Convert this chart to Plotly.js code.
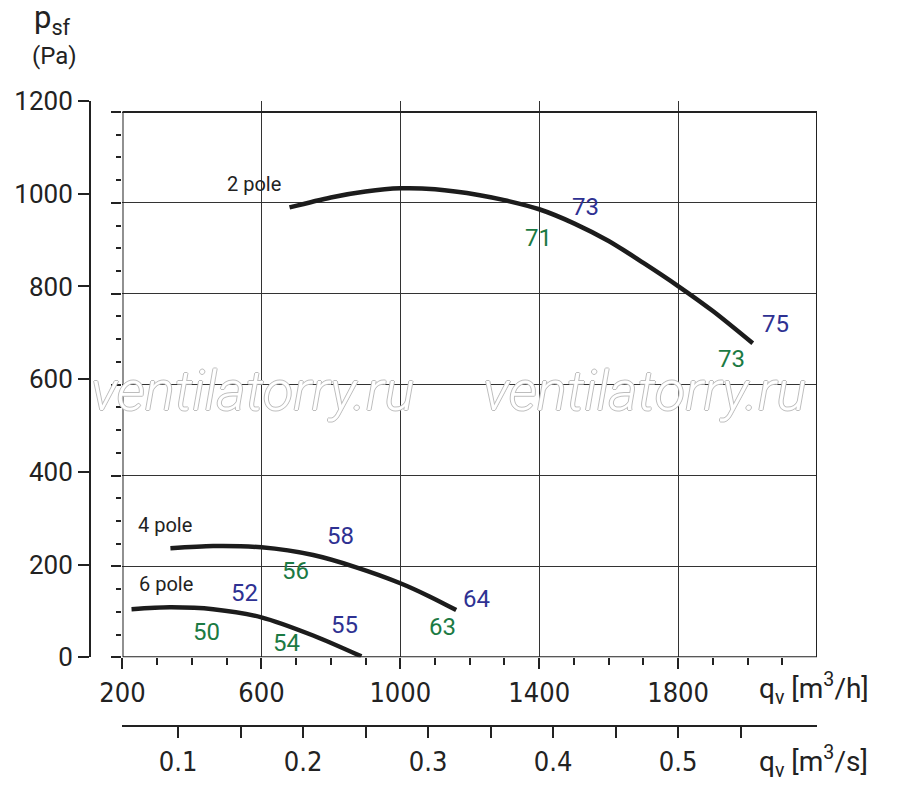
<!DOCTYPE html>
<html>
<head>
<meta charset="utf-8">
<script src="https://cdn.plot.ly/plotly-3.0.1.min.js"></script>
<style>
  body { margin: 0; background: #fff; }
  #myDiv { width: 900px; height: 786px; }
</style>
</head>
<body>
<div id="myDiv"></div>
<script>
// fan curves, flow in m3/h, static pressure in Pa
var pole2Q = [681, 800, 900, 1000, 1100, 1229, 1300, 1400, 1500, 1600, 1700, 1800, 1900, 2015];
var pole2P = [990, 1012, 1025, 1032, 1030, 1017, 1006, 986, 955, 916, 868, 817, 762, 691];

var pole4Q = [338, 461, 600, 749, 873, 1000, 1084, 1161];
var pole4P = [240, 245, 242, 225, 198, 163, 134, 104];

var pole6Q = [226, 336, 461, 600, 749, 888];
var pole6P = [106, 110, 106, 88, 48, 2];

// curve names
var curveNames = ['2 pole', '4 pole', '6 pole'];
var curveNameQ = [578, 323, 324];
var curveNameP = [1042, 291, 161];

// sound levels along the curves (blue = upper, green = lower)
var blueText = ['73', '75', '58', '64', '52', '55'];
var blueQ = [1532, 2080, 828, 1219, 552, 840];
var blueP = [990, 733, 267, 129, 141, 71];

var greenText = ['71', '73', '56', '63', '50', '54'];
var greenQ = [1399, 1955, 698, 1121, 442, 672];
var greenP = [922, 656, 191, 66, 56, 31];

// axis ticks
var qTicks = [200, 600, 1000, 1400, 1800];
var qMinor = [300, 400, 500, 700, 800, 900, 1100, 1200, 1300, 1500, 1600, 1700, 1900, 2000, 2100];
var pTicks = [0, 200, 400, 600, 800, 1000, 1200];
var sTicks = [0.1, 0.2, 0.3, 0.4, 0.5];
var sMinor = [0.15, 0.25, 0.35, 0.45, 0.55];

var lineColor = '#1c1c1c';
var blue = '#2e3192';
var green = '#1b7a43';
var font = 'Roboto, "Noto Sans", sans-serif';
var narrow = '"Liberation Sans Narrow", "DejaVu Sans Condensed", Roboto, sans-serif';

function curve(q, p) {
  return {
    x: q, y: p,
    type: 'scatter', mode: 'lines',
    line: {color: lineColor, width: 4.5, shape: 'spline', smoothing: 0.8},
    hoverinfo: 'skip', showlegend: false
  };
}

var data = [curve(pole2Q, pole2P), curve(pole4Q, pole4P), curve(pole6Q, pole6P)];
// empty traces so the extra scales are drawn
data.push({x: [null], y: [null], xaxis: 'x2', yaxis: 'y', type: 'scatter', mode: 'lines', hoverinfo: 'skip', showlegend: false});
data.push({x: [null], y: [null], xaxis: 'x', yaxis: 'y2', type: 'scatter', mode: 'lines', hoverinfo: 'skip', showlegend: false});

var annotations = [];

// watermark (drawn first so labels sit on top)
[0.223, 0.763].forEach(function (xp) {
  annotations.push({x: xp, y: 0.546, xref: 'paper', yref: 'paper', xanchor: 'center', yanchor: 'middle',
    text: 'ventilatorry.ru', showarrow: false,
    font: {family: font, size: 56, style: 'italic', weight: 300, color: '#ffffff',
      shadow: '1px 0 #bdbdbd, -1px 0 #bdbdbd, 0 1px #bdbdbd, 0 -1px #bdbdbd'}});
});

curveNames.forEach(function (t, i) {
  annotations.push({x: curveNameQ[i], y: curveNameP[i], xref: 'x', yref: 'y', text: t,
    showarrow: false, font: {family: font, size: 20, color: '#222'}});
});
blueText.forEach(function (t, i) {
  annotations.push({x: blueQ[i], y: blueP[i], xref: 'x', yref: 'y', text: t,
    showarrow: false, font: {family: font, size: 24, color: blue}});
});
greenText.forEach(function (t, i) {
  annotations.push({x: greenQ[i], y: greenP[i], xref: 'x', yref: 'y', text: t,
    showarrow: false, font: {family: font, size: 24, color: green}});
});

// axis titles
annotations.push({x: 0.9175, y: 0.080, xref: 'paper', yref: 'paper', xanchor: 'left', yanchor: 'middle',
  text: 'q<sub>v</sub> [m<sup>3</sup>/h]', showarrow: false, font: {family: font, size: 28, color: '#222'}});
annotations.push({x: 0.9175, y: -0.034, xref: 'paper', yref: 'paper', xanchor: 'left', yanchor: 'middle',
  text: 'q<sub>v</sub> [m<sup>3</sup>/s]', showarrow: false, font: {family: font, size: 28, color: '#222'}});
annotations.push({x: -0.080, y: 1.127, xref: 'paper', yref: 'paper', xanchor: 'left', yanchor: 'middle',
  text: 'p<sub>sf</sub>', showarrow: false, font: {family: font, size: 31, color: '#222'}});
annotations.push({x: -0.082, y: 1.070, xref: 'paper', yref: 'paper', xanchor: 'left', yanchor: 'middle',
  text: '(Pa)', showarrow: false, font: {family: font, size: 24, color: '#222'}});

var layout = {
  width: 900,
  height: 786,
  margin: {l: 90, r: 83, t: 101, b: 46},
  paper_bgcolor: '#ffffff',
  plot_bgcolor: 'rgba(0,0,0,0)',
  font: {family: font, color: '#222'},
  showlegend: false,
  xaxis: {
    domain: [0.0447, 1],
    range: [200, 2200],
    tickmode: 'array',
    tickvals: qTicks,
    ticks: 'outside', ticklen: 11, tickwidth: 2, tickcolor: '#222',
    minor: {tickmode: 'array', tickvals: qMinor, ticks: 'outside', ticklen: 7, tickwidth: 2, tickcolor: '#222', showgrid: false},
    showgrid: true, gridcolor: '#333', gridwidth: 1,
    showline: false, zeroline: false,
    tickfont: {family: narrow, size: 27, color: '#222'},
    fixedrange: true
  },
  xaxis2: {
    overlaying: 'x',
    anchor: 'free',
    position: 0.0214,
    side: 'bottom',
    range: [200 / 3600, 2200 / 3600],
    tickmode: 'array',
    tickvals: sTicks,
    ticks: 'outside', ticklen: 11, tickwidth: 2, tickcolor: '#222',
    minor: {tickmode: 'array', tickvals: sMinor, ticks: 'outside', ticklen: 11, tickwidth: 2, tickcolor: '#222', showgrid: false},
    showgrid: false, zeroline: false,
    showline: true, linewidth: 2, linecolor: '#222',
    tickfont: {family: narrow, size: 27, color: '#222'},
    fixedrange: true
  },
  yaxis: {
    domain: [0.1294, 1],
    range: [0, 1224.2],
    tickmode: 'array',
    tickvals: pTicks,
    showticklabels: false,
    ticks: 'outside', ticklen: 10, tickwidth: 2, tickcolor: '#222',
    minor: {dtick: 50, tick0: 0, ticks: 'outside', ticklen: 5, tickwidth: 2, tickcolor: '#222', showgrid: false},
    showgrid: true, gridcolor: '#333', gridwidth: 1,
    showline: false, zeroline: false,
    fixedrange: true
  },
  yaxis2: {
    overlaying: 'y',
    anchor: 'free',
    position: 0,
    side: 'left',
    range: [0, 1200],
    tickmode: 'array',
    tickvals: pTicks,
    ticks: 'outside', ticklen: 11, tickwidth: 2, tickcolor: '#222',
    showgrid: false, zeroline: false,
    showline: true, linewidth: 2, linecolor: '#222',
    tickfont: {family: font, size: 26, color: '#222'},
    fixedrange: true
  },
  shapes: [{
    type: 'rect', xref: 'x', yref: 'y',
    x0: qTicks[0], x1: 2200, y0: 0, y1: pTicks[pTicks.length - 1],
    line: {color: '#222', width: 2}, layer: 'above'
  }],
  annotations: annotations
};

var config = {displayModeBar: false, staticPlot: true};

Plotly.newPlot('myDiv', data, layout, config);
</script>
</body>
</html>
